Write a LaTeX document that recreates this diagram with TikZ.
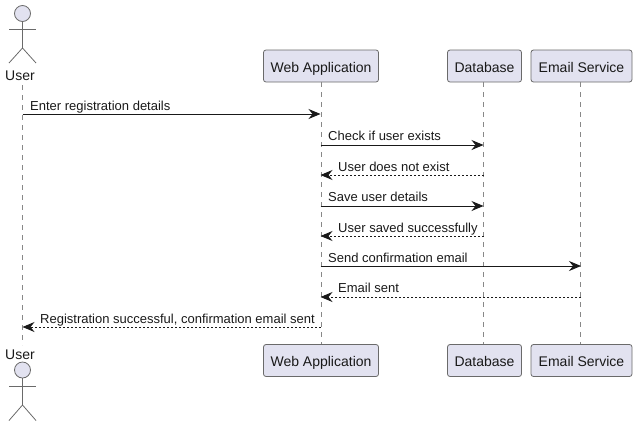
\documentclass[tikz,border=0pt]{standalone}
\usepackage{fontspec}
\setmainfont{Liberation Sans}
\usetikzlibrary{arrows.meta}
\definecolor{partfill}{HTML}{E2E2F0}
\definecolor{partline}{HTML}{6A6A6A}
\tikzset{
  part/.style={draw=partline, fill=partfill, line width=0.8pt, rounded corners=2.5pt,
    minimum height=32pt, inner sep=0pt, text height=12pt, text depth=0pt,
    font=\fontsize{14}{16}\selectfont, text=black!90},
  who/.style={font=\fontsize{14}{16}\selectfont, text=black!90},
  msg/.style={anchor=base west, inner sep=0pt, font=\fontsize{13}{15}\selectfont, text=black!90},
  life/.style={draw=partline!80, line width=0.7pt, dash pattern=on 5pt off 5pt},
  stick/.style={draw=partline, line width=0.8pt},
  call/.style={draw=black!90, line width=0.9pt, -{Stealth[length=12pt,width=10pt,inset=4pt]}},
  back/.style={call, dash pattern=on 2pt off 2pt},
}

\begin{document}
\begin{tikzpicture}[x=1pt, y=-1pt]
  \useasboundingbox (0,0) rectangle (636,426);
  % lifeline ends
  \coordinate (userA) at (22.5,85);
  \coordinate (userB) at (22.5,345);
  % participants, top row
  \node[part, minimum width=115pt] (webT) at (321,66) {Web Application};
  \node[part, minimum width=74pt] (dbT) at (484.5,66) {Database};
  \node[part, minimum width=101pt] (mailT) at (581.5,66) {Email Service};
  % participants, bottom row
  \node[part, minimum width=115pt] (webB) at (321,360.5) {Web Application};
  \node[part, minimum width=74pt] (dbB) at (484.5,360.5) {Database};
  \node[part, minimum width=101pt] (mailB) at (581.5,360.5) {Email Service};
  % lifelines
  \draw[life] (userA)--(userB);
  \draw[life] (webT)--(webB);
  \draw[life] (483,82)--(483,344);
  \draw[life] (580.5,82)--(580.5,344);
  % actor, top
  \node[stick, fill=partfill, circle, minimum size=16pt, inner sep=0pt] (headT) at (22.5,13.5) {};
  \coordinate (hipT) at (22.5,48);
  \draw[stick] (headT)--(hipT);
  \draw[stick] (9,29)--(36,29);
  \draw[stick] (9,63)--(hipT)--(36,63);
  \node[who] (userT) at (20,76) {User};
  % actor, bottom
  \node[who] (userD) at (20,355) {User};
  \node[stick, fill=partfill, circle, minimum size=16pt, inner sep=0pt] (headB) at (22.5,370) {};
  \coordinate (hipB) at (22.5,405);
  \draw[stick] (headB)--(hipB);
  \draw[stick] (9,386)--(36,386);
  \draw[stick] (9,420.5)--(hipB)--(36,420.5);
  % message ends
  \coordinate (u1) at (22.5,114); \coordinate (w1) at (320.5,114);
  \coordinate (w2) at (320.5,145); \coordinate (d2) at (483.5,145);
  \coordinate (w3) at (320.5,175); \coordinate (d3) at (483.5,175);
  \coordinate (w4) at (320.5,206); \coordinate (d4) at (483.5,206);
  \coordinate (w5) at (320.5,236); \coordinate (d5) at (483.5,236);
  \coordinate (w6) at (320.5,266); \coordinate (m6) at (581,266);
  \coordinate (w7) at (320.5,297); \coordinate (m7) at (581,297);
  \coordinate (w8) at (320.5,327); \coordinate (u8) at (22.5,327);
  % messages
  \draw[call] (u1)--(w1);
  \node[msg] (t1) at (30,110) {Enter registration details};
  \draw[call] (w2)--(d2);
  \node[msg] (t2) at (328,140) {Check if user exists};
  \draw[back] (d3)--(w3);
  \node[msg] (t3) at (338,171) {User does not exist};
  \draw[call] (w4)--(d4);
  \node[msg] (t4) at (328,201) {Save user details};
  \draw[back] (d5)--(w5);
  \node[msg] (t5) at (338,232) {User saved successfully};
  \draw[call] (w6)--(m6);
  \node[msg] (t6) at (328,262) {Send confirmation email};
  \draw[back] (m7)--(w7);
  \node[msg] (t7) at (338,292) {Email sent};
  \draw[back] (w8)--(u8);
  \node[msg] (t8) at (40,323) {Registration successful, confirmation email sent};
\end{tikzpicture}
\end{document}
